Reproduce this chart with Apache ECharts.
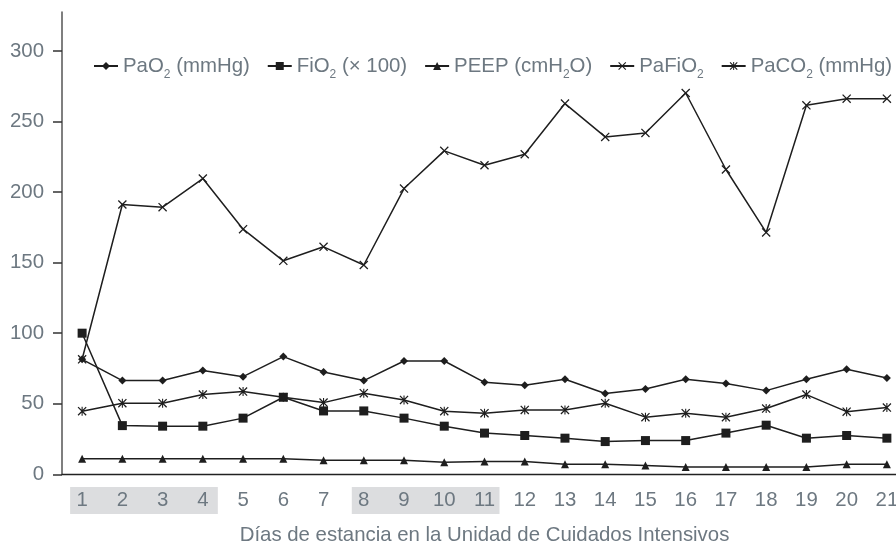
<!DOCTYPE html>
<html><head><meta charset="utf-8">
<script src="https://cdn.jsdelivr.net/npm/echarts@6/dist/echarts.min.js"></script>
<style>html,body{margin:0;padding:0;background:#fff}#c{width:896px;height:546px}</style>
</head><body><div id="c"></div>
<script>
const days = ['1','2','3','4','5','6','7','8','9','10','11','12','13','14','15','16','17','18','19','20','21'];
const pao2 = [81.5,66.4,66.4,73.5,69.2,83.4,72.5,66.4,80.3,80.3,65.2,63.1,67.4,57.2,60.5,67.4,64.3,59.3,67.4,74.4,68.3];
const fio2 = [100,34.5,34.1,34.1,39.8,54.6,44.9,44.9,39.8,34.1,29.2,27.5,25.6,23.2,23.9,23.9,29.2,34.8,25.6,27.5,25.6];
const peep = [11,11,11,11,11,11,10,10,10,8.6,9,9,7.2,7.2,6.2,5.1,5.1,5.1,5.1,7.2,7.2];
const pafio2 = [81.5,191.2,189.3,209.6,173.7,151.3,161.2,148.3,202.5,229.2,219.0,226.8,262.7,239.1,241.9,270.2,216.0,171.4,261.5,266.2,266.2];
const paco2 = [44.7,50.4,50.4,56.5,58.6,54.6,50.8,57.5,52.7,44.7,43.3,45.6,45.6,50.4,40.5,43.3,40.5,46.6,56.5,44.4,47.3];
const yTicks = [0,50,100,150,200,250,300];
const highlightRanges = [['1','4'],['8','11']];
const seriesNames = ['PaO2 (mmHg)','FiO2 (× 100)','PEEP (cmH2O)','PaFiO2','PaCO2 (mmHg)'];
const legendRich = {
  'PaO2 (mmHg)': '{a|PaO}{s|2}{a| (mmHg)}',
  'FiO2 (× 100)': '{a|FiO}{s|2}{a| (× 100)}',
  'PEEP (cmH2O)': '{a|PEEP (cmH}{s|2}{a|O)}',
  'PaFiO2': '{a|PaFiO}{s|2}',
  'PaCO2 (mmHg)': '{a|PaCO}{s|2}{a| (mmHg)}'
};
const xTitle = 'Días de estancia en la Unidad de Cuidados Intensivos';

const FONT = "'Liberation Sans', Arial, sans-serif";
const FS = 20.4;
const TXT = '#6d7881';
const INK = '#1e1e1e';
const xPath = 'path://M0,1L1,0L10,9L9,10ZM9,0L10,1L1,10L0,9Z';
const starPath = 'path://M0,1L1,0L10,9L9,10ZM9,0L10,1L1,10L0,9ZM4.4,0L5.6,0L5.6,10L4.4,10Z';

function mk(name, data, symbol, size) {
  return {
    name, type: 'line', data, symbol, symbolSize: size,
    lineStyle: { color: INK, width: 1.5 },
    itemStyle: { color: INK },
    emphasis: { disabled: true },
    animation: false
  };
}

const chart = echarts.init(document.getElementById('c'));
chart.setOption({
  backgroundColor: '#fff',
  textStyle: { fontFamily: FONT },
  grid: { left: 62, right: -11, top: 12, bottom: 71.7, containLabel: false, outerBoundsMode: 'none' },
  legend: {
    data: seriesNames,
    left: 88, top: 51, width: 830,
    itemWidth: 24, itemHeight: 10, itemGap: 17,
    selectedMode: false,
    formatter: n => legendRich[n],
    textStyle: {
      fontFamily: FONT,
      rich: {
        a: { fontFamily: FONT, fontSize: FS, color: TXT, lineHeight: 24 },
        s: { fontFamily: FONT, fontSize: 12, color: TXT, padding: [17, 0, 0, 0] }
      }
    }
  },
  xAxis: {
    type: 'category', data: days, boundaryGap: true, z: 5,
    axisLine: { lineStyle: { color: '#222', width: 1.3 } },
    axisTick: { show: false },
    axisLabel: { interval: 0, fontSize: FS, color: TXT, margin: 16, fontFamily: FONT },
    name: xTitle, nameLocation: 'middle', nameGap: 51,
    nameTextStyle: { fontSize: FS, color: TXT, fontFamily: FONT }
  },
  yAxis: {
    type: 'value', min: 0, max: 327.6,
    axisLine: { show: true, lineStyle: { color: '#555', width: 1.5 } },
    axisTick: { show: true, length: 9, customValues: yTicks, lineStyle: { color: '#333', width: 1.5 } },
    axisLabel: { customValues: yTicks, fontSize: FS, color: TXT, margin: 18, fontFamily: FONT },
    splitLine: { show: false }
  },
  series: [
    mk(seriesNames[0], pao2, 'diamond', 8),
    mk(seriesNames[1], fio2, 'rect', 9),
    mk(seriesNames[2], peep, 'triangle', 8),
    mk(seriesNames[3], pafio2, xPath, 9),
    mk(seriesNames[4], paco2, starPath, 9)
  ]
});

const y0 = chart.convertToPixel({ yAxisIndex: 0 }, 0);
const rects = highlightRanges.map(([a, b]) => {
  const xa = chart.convertToPixel({ xAxisIndex: 0 }, a);
  const xb = chart.convertToPixel({ xAxisIndex: 0 }, b);
  return {
    type: 'rect', z: -10, silent: true,
    shape: { x: xa - 12, y: y0 + 12.7, width: (xb + 15) - (xa - 12), height: 27 },
    style: { fill: '#dcdddf' }
  };
});
chart.setOption({ graphic: rects });
</script>
</body></html>
